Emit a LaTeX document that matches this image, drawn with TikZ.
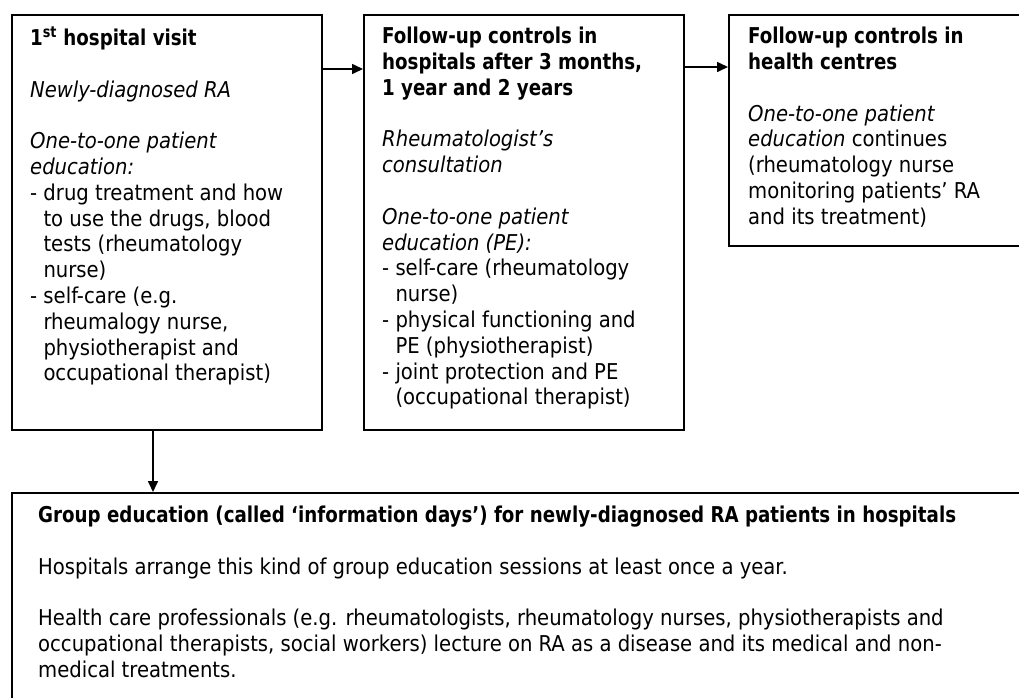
\documentclass[tikz,border=0pt]{standalone}
\usepackage{fontspec}
\setmainfont{DejaVu Sans Condensed}[BoldFeatures={FakeStretch=0.93},BoldItalicFeatures={FakeStretch=0.93}]
\usetikzlibrary{arrows.meta}
\newcommand\lind{\hphantom{- }}
\begin{document}
\begin{tikzpicture}[x=1pt,y=-1pt,
  box/.style={draw=black, line width=1.6pt, rectangle, anchor=north west, inner sep=0pt},
  txt/.style={anchor=north west, align=left, inner sep=0pt, font=\fontsize{21.8}{25.8}\selectfont},
  arr/.style={-{Triangle[length=11pt,width=10pt]}, line width=1.6pt}]
\useasboundingbox (0,0) rectangle (1019,697);
\clip (0,0) rectangle (1019,697);
\node[box, minimum width=310pt, minimum height=415pt] (b1) at (11,14) {};
\node[box, minimum width=320pt, minimum height=415pt] (b2) at (363,14) {};
\node[box, minimum width=320pt, minimum height=231pt] (b3) at (728,14) {};
\node[box, minimum width=1040pt, minimum height=240pt] (b4) at (11,492) {};

\node[txt] (t1) at ([xshift=19pt,yshift=-13pt]b1.north west) {%
\textbf{1\textsuperscript{st} hospital visit}\\[25.8pt]
\textit{Newly-diagnosed RA}\\[25.8pt]
\textit{One-to-one patient}\\
\textit{education:}\\
- drug treatment and how\\
\lind to use the drugs, blood\\
\lind tests (rheumatology\\
\lind nurse)\\
- self-care (e.g.\\
\lind rheumalogy nurse,\\
\lind physiotherapist and\\
\lind occupational therapist)};

\node[txt] (t2) at ([xshift=19pt,yshift=-13pt]b2.north west) {%
\textbf{Follow-up controls in}\\
\textbf{hospitals after 3 months,}\\
\textbf{1 year and 2 years}\\[25.8pt]
\textit{Rheumatologist’s}\\
\textit{consultation}\\[25.8pt]
\textit{One-to-one patient}\\
\textit{education (PE):}\\
- self-care (rheumatology\\
\lind nurse)\\
- physical functioning and\\
\lind PE (physiotherapist)\\
- joint protection and PE\\
\lind (occupational therapist)};

\node[txt] (t3) at ([xshift=20pt,yshift=-13pt]b3.north west) {%
\textbf{Follow-up controls in}\\
\textbf{health centres}\\[25.8pt]
\textit{One-to-one patient}\\
\textit{education} continues\\
(rheumatology nurse\\
monitoring patients’ RA\\
and its treatment)};

\node[txt] (t4) at ([xshift=27pt,yshift=-14pt]b4.north west) {%
\textbf{Group education (called ‘information days’) for newly-diagnosed RA patients in hospitals}\\[25.8pt]
Hospitals arrange this kind of group education sessions at least once a year.\\[25.8pt]
Health care professionals (e.g. rheumatologists, rheumatology nurses, physiotherapists and\\
occupational therapists, social workers) lecture on RA as a disease and its medical and non-\\
medical treatments.};

\draw[arr] ([yshift=-55pt]b1.north east) -- ([yshift=-55pt]b2.north west);
\draw[arr] ([yshift=-53pt]b2.north east) -- ([yshift=-53pt]b3.north west);
\coordinate (vx) at (153,0);
\draw[arr] (b1.south -| vx) -- (b4.north -| vx);
\end{tikzpicture}
\end{document}
